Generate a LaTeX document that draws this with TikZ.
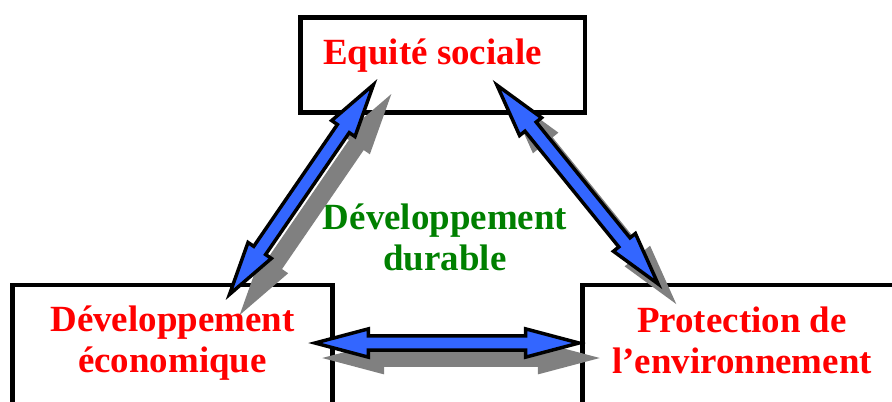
\documentclass[tikz,border=0pt]{standalone}
\usepackage{fontspec}
\setmainfont{Liberation Serif}
\usetikzlibrary{calc}
\definecolor{dvred}{RGB}{255,0,0}
\definecolor{dvgreen}{RGB}{0,128,0}
\definecolor{dvblue}{RGB}{51,102,255}
\definecolor{dvgray}{RGB}{128,128,128}

% head length, head half width, shaft half width
\newcommand{\hl}{40pt}
\newcommand{\hw}{10.6pt}
\newcommand{\sw}{5.4pt}
\newcommand{\twoway}[3]{%
  \path[#1] (#2)
    -- ($(#2)!\hl!(#3)!\hw!90:(#3)$)
    -- ($(#2)!\hl!(#3)!\sw!90:(#3)$)
    -- ($(#3)!\hl!(#2)!\sw!-90:(#2)$)
    -- ($(#3)!\hl!(#2)!\hw!-90:(#2)$)
    -- (#3)
    -- ($(#3)!\hl!(#2)!\hw!90:(#2)$)
    -- ($(#3)!\hl!(#2)!\sw!90:(#2)$)
    -- ($(#2)!\hl!(#3)!\sw!-90:(#3)$)
    -- ($(#2)!\hl!(#3)!\hw!-90:(#3)$)
    -- cycle;}

\begin{document}
\begin{tikzpicture}[x=0.75pt,y=-0.75pt]
  \tikzset{
    box/.style={draw=black,line width=3.4pt,fill=white,inner sep=0pt},
    lab/.style={font=\fontsize{27.7}{30.5}\selectfont\bfseries,text=dvred,align=center,anchor=base,inner sep=0pt},
    mid/.style={lab,text=dvgreen},
    shadow/.style={fill=dvgray,draw=dvgray,line width=2.6pt,line join=miter,
      transform canvas={shift={(14,15)}}},
    link/.style={fill=dvblue,draw=black,line width=2.6pt,line join=miter},
  }
  \useasboundingbox (0,0) rectangle (892,401);
  \clip (0,0) rectangle (892,401);

  \node[box,minimum width=213.4pt,minimum height=71.3pt] (social) at (442.75,65) {};
  \node[box,minimum width=240pt,minimum height=101.3pt] (eco) at (172.5,352.5) {};
  \node[box,minimum width=270pt,minimum height=101.3pt] (envi) at (762.5,352.5) {};

  % two-line labels: base = last line
  \node[lab] (t-social) at (432.5,64) {Equité sociale};
  \node[lab] (t-eco) at (172.5,372) {Développement\\économique};
  \node[lab] (t-envi) at (742,373) {Protection de\\l’environnement};
  \node[mid] (t-dd) at (445,270) {Développement\\durable};

  % arrow ends
  \coordinate (s-w) at (373.5,84.6);
  \coordinate (s-e) at (497,85.2);
  \coordinate (eco-n) at (229.5,294.4);
  \coordinate (eco-e) at (315,343);
  \coordinate (envi-n) at (658,283.8);
  \coordinate (envi-w) at (579,343);

  \twoway{shadow}{eco-n}{s-w}
  \twoway{shadow}{s-e}{envi-n}
  \twoway{shadow}{eco-e}{envi-w}
  \twoway{link}{eco-n}{s-w}
  \twoway{link}{s-e}{envi-n}
  \twoway{link}{eco-e}{envi-w}
\end{tikzpicture}
\end{document}
